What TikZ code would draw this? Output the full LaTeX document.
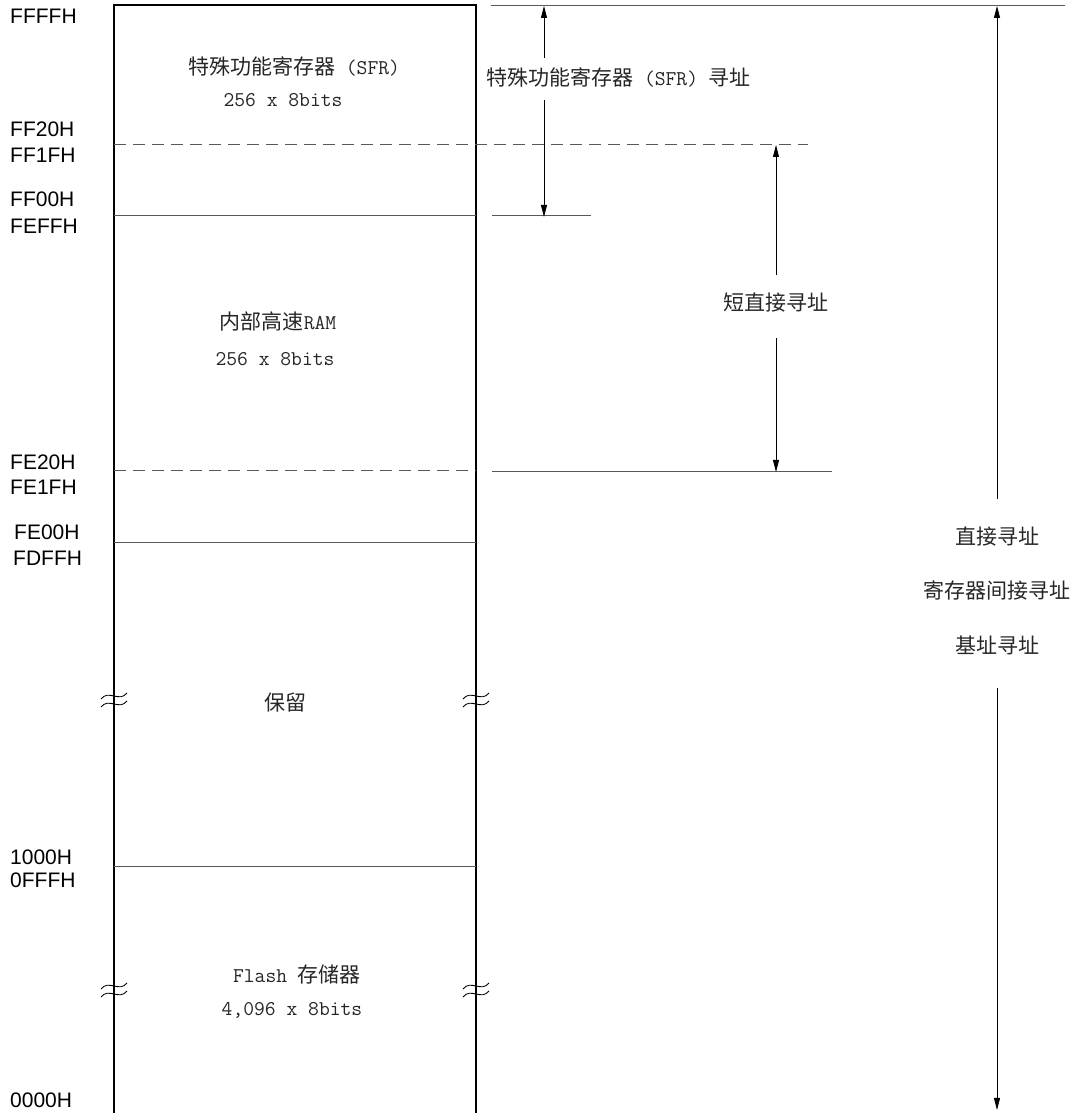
\documentclass[tikz,border=0pt]{standalone}
\usepackage{fontspec}
\setmainfont{Liberation Sans}
\newfontfamily\cjk{Noto Sans CJK SC}
\usetikzlibrary{arrows.meta}
\newcommand{\mn}[1]{{\ttfamily #1}}

\tikzset{
  addr/.style={line width=0.8pt, -{Triangle[length=12pt, width=6pt]}},
  sep/.style={line width=1pt, draw=black!65},
  dsep/.style={sep, dash pattern=on 12pt off 7pt},
  adr/.style={anchor=west, inner sep=0pt, font=\fontsize{21}{24}\selectfont},
  area/.style={inner sep=0pt, text=black!85, font=\fontsize{21}{26}\selectfont\cjk},
}

\begin{document}
\begin{tikzpicture}[x=1pt, y=1pt, yscale=1, xscale=1]
\useasboundingbox (0, 0) rectangle (1076, 1113);
%Memory block
\draw [line width=2pt] (114, 0) -- (114, 1108) -- (476, 1108) -- (476, 0);
\draw [dsep] (114, 968) -- (808, 968);
\draw [sep] (114, 897) -- (476, 897);
\draw [dsep] (114, 642) -- (476, 642);
\draw [sep] (114, 570) -- (476, 570);
\draw [sep] (114, 246) -- (476, 246);
%Breaks
\foreach \bx in {114, 476}
  \foreach \by in {413, 123}
    \foreach \dy in {4, -4}
      \draw [line width=0.9pt] (\bx-13, \by+\dy-3) .. controls (\bx-5, \by+\dy+7) and (\bx+5, \by+\dy-7) .. (\bx+13, \by+\dy+3);
%Range lines
\draw [sep] (491, 1107) -- (1065, 1107);
\draw [sep] (492, 897) -- (591, 897);
\draw [sep] (492, 641) -- (832, 641);
%Arrows
\coordinate (sfrTop) at (544, 1107);
\coordinate (sfrGapA) at (544, 1055);
\coordinate (sfrGapB) at (544, 1013);
\coordinate (sfrBot) at (544, 896);
\draw [addr] (sfrGapA) -- (sfrTop);
\draw [addr] (sfrGapB) -- (sfrBot);
\coordinate (shortTop) at (776, 968);
\coordinate (shortGapA) at (776, 838);
\coordinate (shortGapB) at (776, 775);
\coordinate (shortBot) at (776, 641);
\draw [addr] (shortGapA) -- (shortTop);
\draw [addr] (shortGapB) -- (shortBot);
\coordinate (allTop) at (997, 1107);
\coordinate (allGapA) at (997, 614);
\coordinate (allGapB) at (997, 425);
\coordinate (allBot) at (997, 3);
\draw [addr] (allGapA) -- (allTop);
\draw [addr] (allGapB) -- (allBot);
%Text
\draw (10, 1097) node (aFFFF) [adr] {FFFFH};
\draw (10, 984) node (aFF20) [adr] {FF20H};
\draw (10, 958) node (aFF1F) [adr] {FF1FH};
\draw (10, 914) node (aFF00) [adr] {FF00H};
\draw (10, 887) node (aFEFF) [adr] {FEFFH};
\draw (10, 651) node (aFE20) [adr] {FE20H};
\draw (10, 626) node (aFE1F) [adr] {FE1FH};
\draw (14, 581) node (aFE00) [adr] {FE00H};
\draw (13, 555) node (aFDFF) [adr] {FDFFH};
\draw (10, 256) node (a1000) [adr] {1000H};
\draw (10, 233) node (a0FFF) [adr] {0FFFH};
\draw (10, 13) node (a0000) [adr] {0000H};
\draw (294, 1046) node (sfrName) [area] {特殊功能寄存器\mn{ (SFR)}};
\draw (283, 1013) node (sfrSize) [area] {\mn{256 x 8bits}};
\draw (278, 791) node (ramName) [area] {内部高速\mn{RAM}};
\draw (275, 754) node (ramSize) [area] {\mn{256 x 8bits}};
\draw (285, 410) node (rsvName) [area] {保留};
\draw (297, 138) node (flashName) [area] {\mn{Flash }存储器};
\draw (292, 103) node (flashSize) [area] {\mn{4,096 x 8bits}};
\draw (486, 1035) node (sfrAddr) [area, anchor=west] {特殊功能寄存器\mn{ (SFR) }寻址};
\draw (776, 810) node (shortAddr) [area] {短直接寻址};
\draw (997, 576) node (direct) [area] {直接寻址};
\draw (997, 523) node (regInd) [area] {寄存器间接寻址};
\draw (997, 468) node (baseAddr) [area] {基址寻址};
\end{tikzpicture}
\end{document}
